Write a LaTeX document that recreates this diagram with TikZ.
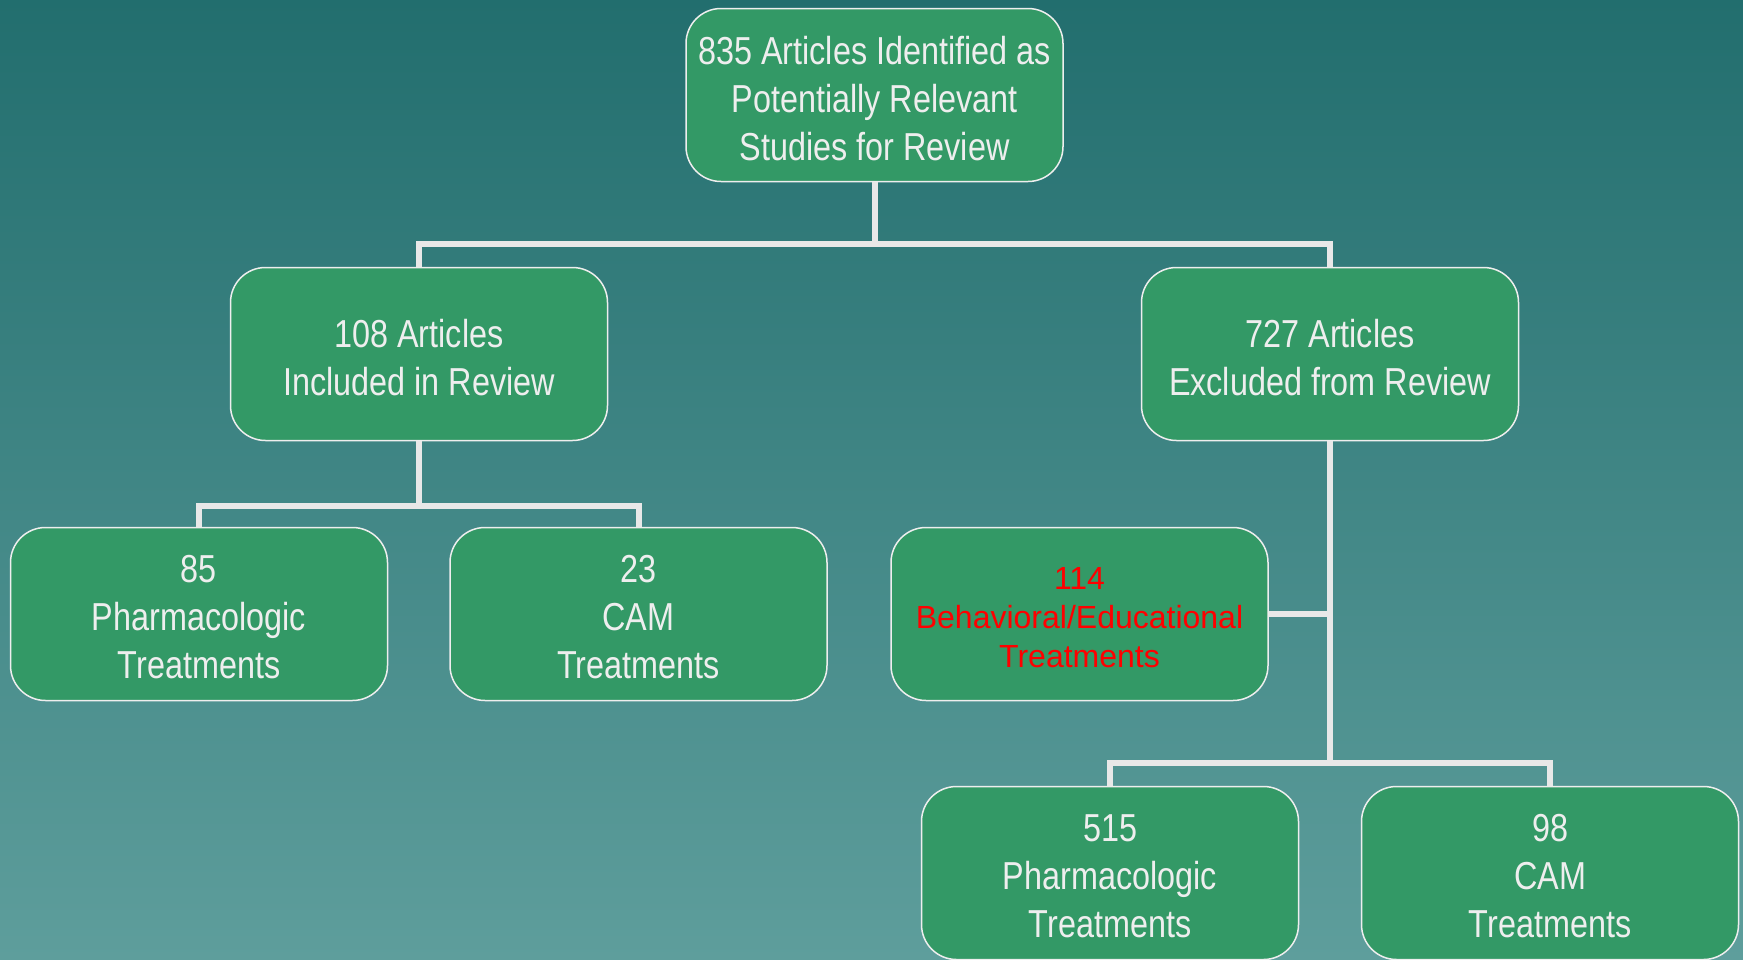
\documentclass[tikz,border=0pt]{standalone}
\usepackage{fontspec}
\newfontfamily\narrowfont[FakeStretch=0.83]{Liberation Sans}
\newfontfamily\arialfont{Liberation Sans}
\definecolor{bgtop}{RGB}{34,110,110}
\definecolor{bgbot}{RGB}{94,158,156}
\definecolor{boxfill}{RGB}{51,153,102}
\definecolor{boxtext}{RGB}{238,238,238}
\definecolor{connc}{RGB}{232,232,232}
\definecolor{redtext}{RGB}{255,0,0}
\begin{document}
\begin{tikzpicture}[x=1pt,y=-1pt,
  box/.style={rectangle, rounded corners=35pt, draw=boxtext, line width=1.5pt,
    fill=boxfill, minimum width=377pt, minimum height=173pt, inner sep=0pt},
  txt/.style={inner sep=0pt, align=center, text=boxtext,
    font=\narrowfont\fontsize{39}{48}\selectfont},
  redtxt/.style={txt, text=redtext, font=\arialfont\fontsize{32}{39}\selectfont},
  conn/.style={draw=connc, line width=6pt}]
\shade[top color=bgtop, bottom color=bgbot] (0,0) rectangle (1743,959);
\useasboundingbox (0,0) rectangle (1743,959);
\coordinate (j1) at (874.5,244);
\coordinate (j2) at (419,506);
\coordinate (j3) at (1330,614);
\coordinate (j4) at (1330,763);
% boxes
\node[box] (top) at (874.5,95) {};
\node[box] (ml) at (419,354) {};
\node[box] (mr) at (1330,354) {};
\node[box] (bl1) at (199,614) {};
\node[box] (bl2) at (638.5,614) {};
\node[box] (beh) at (1079.5,614) {};
\node[box] (br1) at (1110,873) {};
\node[box] (br2) at (1550,873) {};
% connectors
\path[conn] (top.south) -- (j1);
\path[conn] (ml.north) |- (j1) -| (mr.north);
\path[conn] (ml.south) -- (j2);
\path[conn] (bl1.north) |- (j2) -| (bl2.north);
\path[conn] (mr.south) -- (j4);
\path[conn] (beh.east) -- (j3);
\path[conn] (br1.north) |- (j4) -| (br2.north);
% texts
\node[txt] (topt) at ([yshift=-3.5pt]top.center) {835 Articles Identified as\\Potentially Relevant\\Studies for Review};
\node[txt] (mlt) at ([yshift=-3.5pt]ml.center) {108 Articles\\Included in Review};
\node[txt] (mrt) at ([yshift=-3.5pt]mr.center) {727 Articles\\Excluded from Review};
\node[txt] (bl1t) at ([yshift=-3.5pt]bl1.center) {85\\Pharmacologic\\Treatments};
\node[txt] (bl2t) at ([yshift=-3.5pt]bl2.center) {23\\CAM\\Treatments};
\node[redtxt] (beht) at ([yshift=-4pt]beh.center) {114\\Behavioral/Educational\\Treatments};
\node[txt] (br1t) at ([yshift=-3.5pt]br1.center) {515\\Pharmacologic\\Treatments};
\node[txt] (br2t) at ([yshift=-3.5pt]br2.center) {98\\CAM\\Treatments};
\end{tikzpicture}
\end{document}
